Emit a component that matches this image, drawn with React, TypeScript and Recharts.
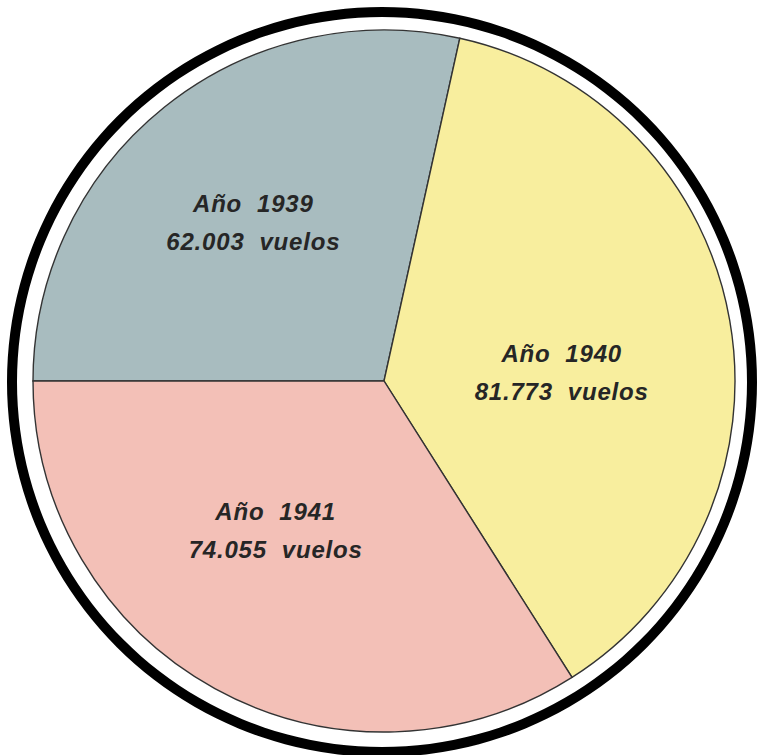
import { Cell, Pie, PieChart } from "recharts";

const YEARS = ["1939", "1940", "1941"];
const FLIGHTS = [62003, 81773, 74055];
const FLIGHT_LABELS = ["62.003", "81.773", "74.055"];
const SLICE_COLORS = ["#a8bcbf", "#f8ee9e", "#f3c0b7"];

// small per-slice nudges so the labels sit where the printed ones do
const LABEL_NUDGE = [
  [-12, -2],
  [-9, 33],
  [-17, -8],
];

const data = YEARS.map((year, i) => ({
  name: `Año ${year}`,
  year,
  value: FLIGHTS[i],
  label: FLIGHT_LABELS[i],
}));

const ring = [{ name: "ring", value: 1 }];

const RADIAN = Math.PI / 180;

function SliceLabel(props: any) {
  const { cx, cy, midAngle, outerRadius, index } = props;
  const r = outerRadius * 0.54;
  const [nx, ny] = LABEL_NUDGE[index] ?? [0, 0];
  const x = cx + r * Math.cos(-midAngle * RADIAN) + nx;
  const y = cy + r * Math.sin(-midAngle * RADIAN) + ny;
  const row = data[index];
  return (
    <text
      x={x}
      y={y}
      textAnchor="middle"
      fill="#262626"
      style={{
        fontFamily: "'Liberation Sans', Arial, sans-serif",
        fontStyle: "italic",
        fontWeight: 700,
        fontSize: 24,
        letterSpacing: 0.8,
      }}
    >
      <tspan x={x} y={y - 19}>{`Año\u00A0 ${row.year}`}</tspan>
      <tspan x={x} y={y + 19}>{`${row.label}\u00A0 vuelos`}</tspan>
    </text>
  );
}

export default function App() {
  return (
    <div
      style={{
        position: "absolute",
        left: 0,
        top: 0,
        width: 759,
        height: 755,
        background: "#ffffff",
      }}
    >
      <PieChart width={759} height={755} margin={{ top: 0, right: 0, bottom: 0, left: 0 }}>
        <Pie
          data={ring}
          dataKey="value"
          cx={382}
          cy={382}
          innerRadius={365}
          outerRadius={375}
          fill="#000000"
          stroke="none"
          isAnimationActive={false}
        />
        <Pie
          data={data}
          dataKey="value"
          nameKey="name"
          cx={384}
          cy={381}
          outerRadius={351}
          startAngle={180}
          endAngle={-180}
          stroke="#333333"
          strokeWidth={1.4}
          labelLine={false}
          label={SliceLabel}
          isAnimationActive={false}
        >
          {data.map((row, i) => (
            <Cell key={row.year} fill={SLICE_COLORS[i]} />
          ))}
        </Pie>
      </PieChart>
    </div>
  );
}
